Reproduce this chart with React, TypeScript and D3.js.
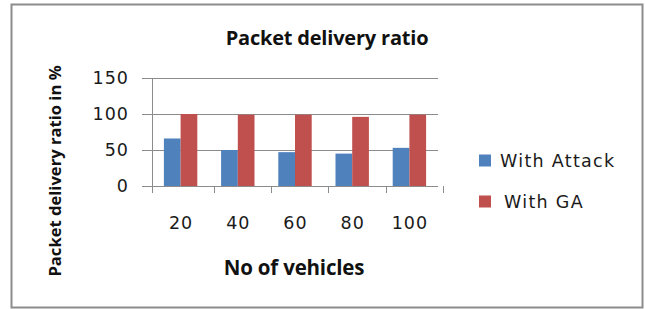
import React, { useRef, useEffect } from 'react';
import * as d3 from 'd3';

const categories = ['20', '40', '60', '80', '100'];
const withAttack = [66, 50, 47, 45, 53];
const withGA = [100, 99, 99, 96, 99];
const yTicks = [0, 50, 100, 150];

const seriesNames = ['With Attack', 'With GA'];
const colors = ['#4F81BD', '#C0504D'];

const TITLE_FONT = "'Open Sans', 'Liberation Sans', sans-serif";
const LABEL_FONT = "'DejaVu Sans', 'Liberation Sans', sans-serif";

const App: React.FC = () => {
  const svgRef = useRef<SVGSVGElement>(null);
  const width = 645;
  const height = 309;

  useEffect(() => {
    if (!svgRef.current) return;
    const svg = d3.select(svgRef.current);
    svg.selectAll('*').remove();

    // Chart frame
    svg.append('rect')
      .attr('x', 11.5).attr('y', 4.5)
      .attr('width', 631).attr('height', 303)
      .attr('fill', '#fff')
      .attr('stroke', '#8c8c8c')
      .attr('stroke-width', 2);

    const plot = { left: 152, right: 438, top: 78, bottom: 186 };

    const x0 = d3.scaleBand<string>()
      .domain(categories)
      .range([plot.left, plot.right])
      .paddingInner(0.416)
      .paddingOuter(0.208);

    const x1 = d3.scaleBand<string>()
      .domain(seriesNames)
      .range([0, x0.bandwidth()]);

    const y = d3.scaleLinear().domain([0, 150]).range([plot.bottom, plot.top]);

    // Gridlines
    svg.append('g')
      .selectAll('line')
      .data(yTicks)
      .enter()
      .append('line')
      .attr('x1', plot.left - 10)
      .attr('x2', plot.right)
      .attr('y1', d => Math.round(y(d)) + 0.5)
      .attr('y2', d => Math.round(y(d)) + 0.5)
      .attr('stroke', '#8c8c8c')
      .attr('stroke-width', 1);

    // Y tick labels
    svg.append('g')
      .selectAll('text')
      .data(yTicks)
      .enter()
      .append('text')
      .attr('x', 129)
      .attr('y', d => y(d))
      .attr('dy', '0.36em')
      .attr('text-anchor', 'end')
      .attr('font-family', LABEL_FONT)
      .attr('font-size', '17.5px')
      .attr('letter-spacing', '1px')
      .attr('fill', '#1a1a1a')
      .text(d => d);

    // Bars
    const rows = categories.map((c, i) => ({ cat: c, values: [withAttack[i], withGA[i]] }));
    const groups = svg.append('g')
      .selectAll('g')
      .data(rows)
      .enter()
      .append('g')
      .attr('transform', d => `translate(${x0(d.cat)},0)`);

    groups.selectAll('rect')
      .data(d => d.values.map((v, j) => ({ name: seriesNames[j], value: v, j })))
      .enter()
      .append('rect')
      .attr('x', d => x1(d.name) as number)
      .attr('y', d => y(d.value))
      .attr('width', x1.bandwidth())
      .attr('height', d => plot.bottom - y(d.value))
      .attr('fill', d => colors[d.j]);

    // Axes lines
    svg.append('line')
      .attr('x1', plot.left + 0.5).attr('x2', plot.left + 0.5)
      .attr('y1', plot.top).attr('y2', plot.bottom + 7)
      .attr('stroke', '#8c8c8c');

    svg.append('line')
      .attr('x1', plot.left - 10).attr('x2', plot.right)
      .attr('y1', plot.bottom + 0.5).attr('y2', plot.bottom + 0.5)
      .attr('stroke', '#8c8c8c');

    const boundaries = categories.map(c => (x0(c) as number) + x0.bandwidth() + x0.step() * 0.292);
    svg.append('g')
      .selectAll('line')
      .data(boundaries)
      .enter()
      .append('line')
      .attr('x1', d => Math.round(d) + 0.5)
      .attr('x2', d => Math.round(d) + 0.5)
      .attr('y1', plot.bottom)
      .attr('y2', plot.bottom + 7)
      .attr('stroke', '#8c8c8c');

    // X tick labels
    svg.append('g')
      .selectAll('text')
      .data(categories)
      .enter()
      .append('text')
      .attr('x', d => (x0(d) as number) + x0.bandwidth() / 2 + 0.5)
      .attr('y', 223)
      .attr('dy', '0.36em')
      .attr('text-anchor', 'middle')
      .attr('font-family', LABEL_FONT)
      .attr('font-size', '17.5px')
      .attr('letter-spacing', '1px')
      .attr('fill', '#1a1a1a')
      .text(d => d);

    // Title
    svg.append('text')
      .attr('x', 327)
      .attr('y', 38)
      .attr('dy', '0.35em')
      .attr('text-anchor', 'middle')
      .attr('font-family', TITLE_FONT)
      .attr('font-size', '20px')
      .attr('font-weight', 'bold')
      .attr('letter-spacing', '-0.2px')
      .attr('fill', '#111')
      .text('Packet delivery ratio');

    // X axis title
    svg.append('text')
      .attr('x', 294)
      .attr('y', 268)
      .attr('dy', '0.35em')
      .attr('text-anchor', 'middle')
      .attr('font-family', TITLE_FONT)
      .attr('font-size', '20.5px')
      .attr('font-weight', 'bold')
      .attr('letter-spacing', '-0.2px')
      .attr('fill', '#111')
      .text('No of vehicles');

    // Y axis title
    svg.append('text')
      .attr('transform', 'translate(55,171) rotate(-90)')
      .attr('dy', '0.35em')
      .attr('text-anchor', 'middle')
      .attr('font-family', TITLE_FONT)
      .attr('font-size', '16.6px')
      .attr('font-weight', 'bold')
      .attr('fill', '#111')
      .text('Packet delivery ratio in %');

    // Legend
    const legendY = [160.5, 201.5];
    const legend = svg.append('g')
      .selectAll('g')
      .data(seriesNames)
      .enter()
      .append('g');

    legend.append('rect')
      .attr('x', 479)
      .attr('y', (d, i) => legendY[i] - 6)
      .attr('width', 12)
      .attr('height', 12)
      .attr('fill', (d, i) => colors[i]);

    legend.append('text')
      .attr('x', (d, i) => (i === 0 ? 500 : 504))
      .attr('y', (d, i) => legendY[i])
      .attr('dy', '0.36em')
      .attr('font-family', LABEL_FONT)
      .attr('font-size', '17.5px')
      .attr('letter-spacing', '1.3px')
      .attr('fill', '#1a1a1a')
      .text(d => d);
  }, []);

  return (
    <svg
      ref={svgRef}
      width={width}
      height={height}
      style={{ position: 'absolute', left: 0, top: 0, background: '#fff' }}
    />
  );
};

export default App;
